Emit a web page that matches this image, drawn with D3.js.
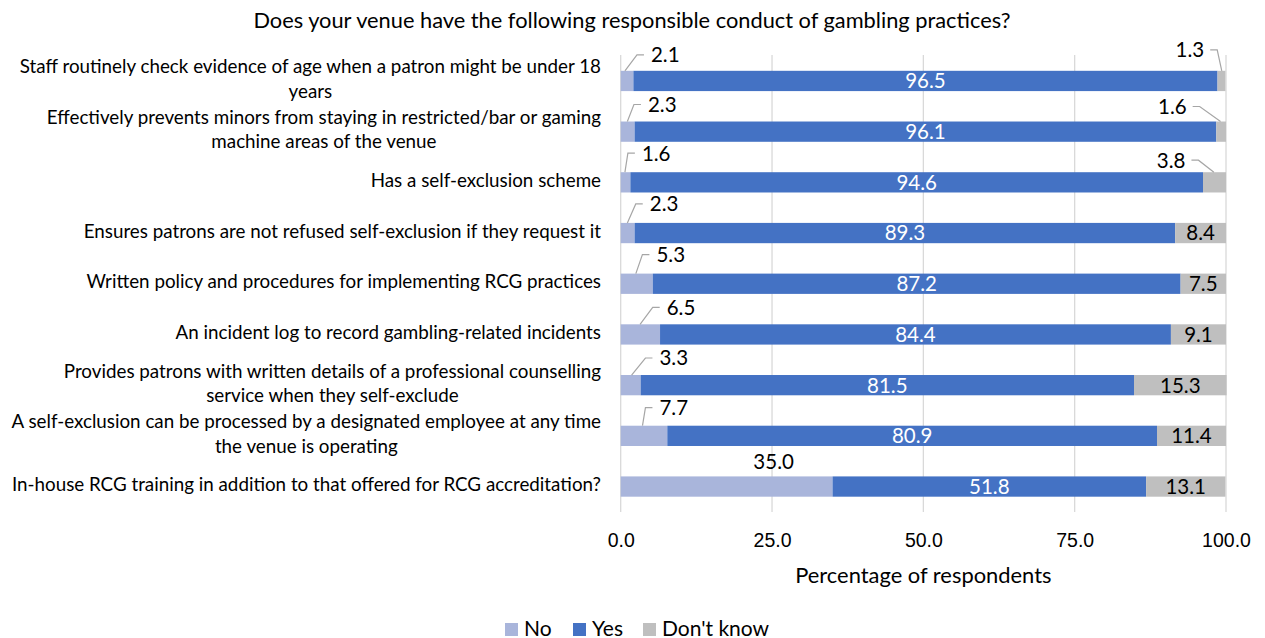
<!DOCTYPE html>
<html>
<head>
<meta charset="utf-8">
<script src="https://cdn.jsdelivr.net/npm/d3@7"></script>
<style>
  html, body { margin: 0; padding: 0; background: #fff; }
  svg { display: block; font-family: Lato, "Open Sans", sans-serif; }
</style>
</head>
<body>
<svg id="chart" width="1265" height="638"></svg>
<script>
// Survey items (line breaks mark where the axis label wraps)
const categories = [
  "Staff routinely check evidence of age when a patron might be under 18\nyears",
  "Effectively prevents minors from staying in restricted/bar or gaming\nmachine areas of the venue",
  "Has a self-exclusion scheme",
  "Ensures patrons are not refused self-exclusion if they request it",
  "Written policy and procedures for implementing RCG practices",
  "An incident log to record gambling-related incidents",
  "Provides patrons with written details of a professional counselling\nservice when they self-exclude",
  "A self-exclusion can be processed by a designated employee at any time\nthe venue is operating",
  "In-house RCG training in addition to that offered for RCG accreditation?"
];

// Percentage of respondents per answer
const noValues  = [2.1, 2.3, 1.6, 2.3, 5.3, 6.5, 3.3, 7.7, 35.0];
const yesValues = [96.5, 96.1, 94.6, 89.3, 87.2, 84.4, 81.5, 80.9, 51.8];
const dkValues  = [1.3, 1.6, 3.8, 8.4, 7.5, 9.1, 15.3, 11.4, 13.1];

const seriesNames = ["No", "Yes", "Don't know"];
const tickValues = [0, 25, 50, 75, 100];

const chartTitle = "Does your venue have the following responsible conduct of gambling practices?";
const axisTitle = "Percentage of respondents";

// Callout placement for small segments (axis units for x, pixels above the bar for y)
// [text left, leader start on bar, pixel offset above bar top]
const noCallouts = [
  [5.0, 0.7, 16], [4.5, 1.1, 17], [3.5, 0.7, 19], [4.8, 1.1, 19],
  [5.9, 2.5, 19], [7.6, 3.2, 17], [6.4, 1.8, 17], [6.4, 3.6, 18], null
];
// [text right, leader start on bar, pixel offset above bar top]
const dkCallouts = [[96.4, 99.3, 21], [93.5, 99.1, 15], [93.3, 98.0, 12]];

const colors = { "No": "#a9b5db", "Yes": "#4472c4", "Don't know": "#bfbfbf" };

const svg = d3.select("#chart");

const x = d3.scaleLinear().domain([0, 100]).range([620.7, 1226]);
const y = d3.scaleBand().domain(d3.range(categories.length))
  .range([55.6, 511.9]).paddingInner(0.6).paddingOuter(0.3);

const rows = categories.map((c, i) => ({
  i, label: c, no: noValues[i], yes: yesValues[i], dk: dkValues[i]
}));

// Gridlines
svg.append("g").selectAll("line").data(tickValues).join("line")
  .attr("x1", d => x(d)).attr("x2", d => x(d))
  .attr("y1", 55).attr("y2", 512)
  .attr("stroke", "#d9d9d9").attr("stroke-width", 1.3);

// Stacked bars
const stack = d3.stack().keys(["no", "yes", "dk"])(rows);
const keyName = { no: "No", yes: "Yes", dk: "Don't know" };
svg.append("g").selectAll("g").data(stack).join("g")
  .attr("fill", s => colors[keyName[s.key]])
  .selectAll("rect").data(s => s).join("rect")
  .attr("x", d => x(d[0]))
  .attr("width", d => x(d[1]) - x(d[0]))
  .attr("y", d => y(d.data.i))
  .attr("height", y.bandwidth());

const valFont = 20.5;
const fmt = d3.format(".1f");
const labels = svg.append("g").attr("font-size", valFont);

// "Yes" values inside the bars
labels.selectAll("text.yes").data(rows).join("text")
  .attr("class", "yes")
  .attr("x", d => x(d.no + d.yes / 2))
  .attr("y", d => y(d.i) + y.bandwidth() / 2)
  .attr("dy", "0.36em")
  .attr("text-anchor", "middle")
  .attr("fill", "#fff")
  .text(d => fmt(d.yes));

// "Don't know" values: inside when wide enough, otherwise called out above
rows.forEach(d => {
  const top = y(d.i);
  const c = dkCallouts[d.i];
  if (!c) {
    labels.append("text")
      .attr("x", x(d.no + d.yes + d.dk / 2))
      .attr("y", top + y.bandwidth() / 2)
      .attr("dy", "0.36em").attr("text-anchor", "middle")
      .attr("fill", "#000").text(fmt(d.dk));
  } else {
    const ty = top - c[2];
    const tx = x(c[0]);
    labels.append("path")
      .attr("d", `M${tx + 6},${ty} H${tx + 13} L${x(c[1])},${top}`)
      .attr("fill", "none").attr("stroke", "#a6a6a6").attr("stroke-width", 1.2);
    labels.append("text")
      .attr("x", tx).attr("y", ty).attr("dy", "0.36em")
      .attr("text-anchor", "end").attr("fill", "#000").text(fmt(d.dk));
  }
});

// "No" values: called out above the bar
rows.forEach(d => {
  const top = y(d.i);
  const c = noCallouts[d.i];
  if (!c) {
    labels.append("text")
      .attr("x", x(d.no / 2) + 47)
      .attr("y", top - 15).attr("dy", "0.36em")
      .attr("text-anchor", "middle").attr("fill", "#000").text(fmt(d.no));
  } else {
    const ty = top - c[2];
    const tx = x(c[0]);
    labels.append("path")
      .attr("d", `M${x(c[1])},${top} L${tx - 14},${ty} H${tx - 7}`)
      .attr("fill", "none").attr("stroke", "#a6a6a6").attr("stroke-width", 1.2);
    labels.append("text")
      .attr("x", tx).attr("y", ty).attr("dy", "0.36em")
      .attr("text-anchor", "start").attr("fill", "#000").text(fmt(d.no));
  }
});

// Category labels, each block right-aligned with its lines centred
const catFont = 18.8, lineH = 24.4, labelRight = 601;
const catG = svg.append("g").attr("font-size", catFont).attr("fill", "#000");
rows.forEach(d => {
  const lines = d.label.split("\n");
  const cy = y(d.i) + y.bandwidth() / 2 - 2;
  const t = catG.append("text").attr("text-anchor", "middle");
  lines.forEach((ln, k) => {
    t.append("tspan")
      .attr("y", cy + (k - (lines.length - 1) / 2) * lineH)
      .attr("dy", "0.35em")
      .text(ln);
  });
  let maxW = 0;
  t.selectAll("tspan").each(function () {
    maxW = Math.max(maxW, this.getComputedTextLength());
  });
  t.selectAll("tspan").attr("x", labelRight - maxW / 2);
});

// X axis tick labels
const axis = svg.append("g")
  .attr("transform", "translate(0,512)")
  .call(d3.axisBottom(x).tickValues(tickValues).tickFormat(fmt).tickSize(0));
axis.select(".domain").remove();
axis.selectAll("text")
  .attr("y", 28).attr("dy", "0.36em")
  .attr("font-size", 19.5).attr("font-family", null)
  .attr("fill", "#000");

// Axis title
svg.append("text")
  .attr("x", (x(0) + x(100)) / 2).attr("y", 575).attr("dy", "0.36em")
  .attr("text-anchor", "middle").attr("font-size", 21.9).attr("fill", "#000")
  .text(axisTitle);

// Chart title
svg.append("text")
  .attr("x", 632).attr("y", 20).attr("dy", "0.36em")
  .attr("text-anchor", "middle").attr("font-size", 21.8).attr("fill", "#000")
  .text(chartTitle);

// Legend
const legendX = [505, 573, 643];
const leg = svg.append("g").selectAll("g").data(seriesNames).join("g")
  .attr("transform", (d, i) => `translate(${legendX[i]},0)`);
leg.append("rect").attr("x", 0).attr("y", 623).attr("width", 13).attr("height", 13)
  .attr("fill", d => colors[d]);
leg.append("text").attr("x", 19).attr("y", 635.5)
  .attr("font-size", 21).attr("fill", "#000").text(d => d);
</script>
</body>
</html>
